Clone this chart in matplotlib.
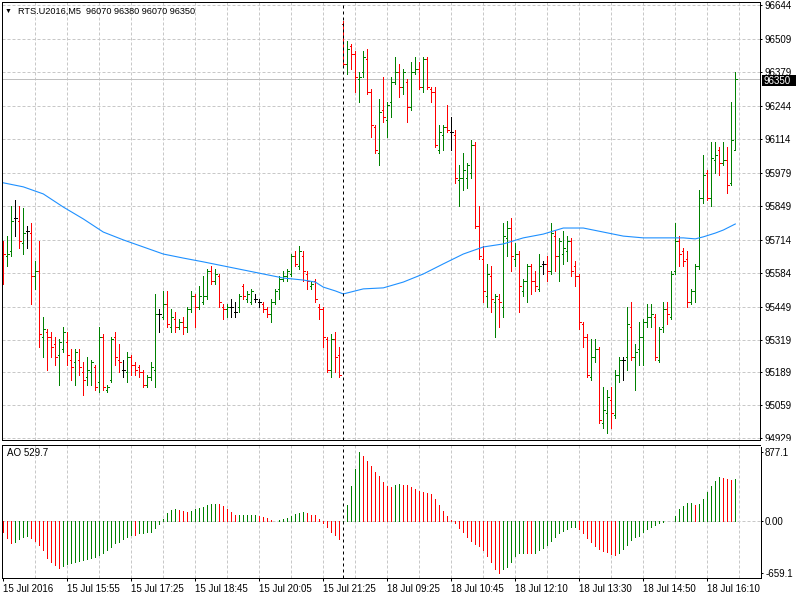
import matplotlib
matplotlib.use("Agg")
import matplotlib.pyplot as plt
import numpy as np
from matplotlib.patches import Rectangle

plt.rcParams["font.family"] = ["Liberation Sans", "DejaVu Sans"]
plt.rcParams["font.size"] = 7

W, H = 800, 600
PX = 0.72  # one pixel in points at 100 dpi
BAR_LW = 0.55  # thin enough to land on a single pixel column

up_col = "#008000"
down_col = "#FF0000"
ma_col = "#1E90FF"
grid_col = "#C8C8C8"

# RTS.U2016, M5 bars (15 Jul 2016 .. 18 Jul 2016)
opens = [
    95690, 95650, 95670, 95800, 95790, 95700, 95750, 95740, 95570, 95590,
    95330, 95350, 95330, 95300, 95260, 95280, 95310, 95240, 95230, 95240,
    95190, 95170, 95190, 95210, 95150, 95330, 95120, 95160, 95330, 95240,
    95200, 95190, 95250, 95220, 95210, 95190, 95140, 95170, 95200, 95420,
    95410, 95460, 95370, 95400, 95370, 95390, 95370, 95440, 95490, 95450,
    95470, 95490, 95590, 95550, 95570, 95450, 95440, 95450, 95430, 95450,
    95530, 95480, 95470, 95480, 95470, 95460, 95440, 95420, 95470, 95520,
    95560, 95570, 95580, 95650, 95610, 95650, 95580, 95530, 95550, 95450,
    95440, 95320, 95200, 95320, 95260, 96570, 96410, 96480, 96450, 96350,
    96380, 96430, 96300, 96160, 96060, 96230, 96190, 96260, 96340, 96380,
    96320, 96340, 96240, 96380, 96390, 96320, 96430, 96310, 96300, 96070,
    96130, 96160, 96140, 96130, 95950, 95960, 95960, 95980, 96090, 95770,
    95640, 95490, 95570, 95470, 95480, 95450, 95720, 95760, 95640, 95660,
    95510, 95550, 95610, 95550, 95520, 95620, 95620, 95590, 95730, 95650,
    95660, 95670, 95710, 95610, 95570, 95380, 95330, 95170, 95250, 95280,
    94990, 95030, 95080, 95020, 95180, 95240, 95250, 95370, 95250, 95280,
    95330, 95390, 95410, 95410, 95240, 95370, 95440, 95410, 95590, 95710,
    95670, 95640, 95470, 95510, 95610, 95880, 95980, 95880, 96030, 96070,
    96020, 96030, 95940, 96070,
]
highs = [
    95710, 95730, 95850, 95870, 95850, 95840, 95770, 95780, 95630, 95710,
    95410, 95360, 95350, 95330, 95320, 95370, 95350, 95280, 95280, 95280,
    95230, 95250, 95240, 95220, 95370, 95340, 95140, 95330, 95350, 95300,
    95240, 95270, 95260, 95230, 95220, 95200, 95180, 95230, 95500, 95440,
    95510, 95510, 95440, 95430, 95400, 95410, 95450, 95510, 95500, 95530,
    95570, 95600, 95610, 95600, 95580, 95460, 95460, 95480, 95470, 95500,
    95540, 95510, 95520, 95500, 95480, 95470, 95450, 95480, 95520, 95570,
    95590, 95600, 95660, 95670, 95690, 95670, 95590, 95550, 95560, 95460,
    95450, 95330, 95340, 95350, 95290, 96580, 96500, 96490, 96460, 96380,
    96460, 96470, 96310, 96170, 96270, 96360, 96260, 96360, 96440, 96410,
    96390, 96350, 96420, 96440, 96420, 96440, 96440, 96320, 96320, 96170,
    96170, 96250, 96200, 96150, 96010, 96060, 96020, 96110, 96100, 95850,
    95690, 95620, 95610, 95500, 95500, 95780, 95790, 95800, 95700, 95670,
    95560, 95620, 95620, 95590, 95660, 95630, 95650, 95780, 95750, 95720,
    95750, 95730, 95720, 95630, 95580, 95390, 95340, 95320, 95320, 95290,
    95130, 95120, 95130, 95200, 95250, 95250, 95450, 95470, 95300, 95390,
    95400, 95460, 95460, 95420, 95370, 95470, 95470, 95590, 95780, 95730,
    95680, 95670, 95520, 95620, 95910, 96050, 95990, 96100, 96100, 96080,
    96100, 96080, 96260, 96380,
]
lows = [
    95540, 95610, 95650, 95730, 95680, 95660, 95680, 95460, 95520, 95290,
    95250, 95200, 95250, 95220, 95140, 95270, 95220, 95160, 95140, 95180,
    95100, 95140, 95140, 95120, 95110, 95120, 95110, 95150, 95220, 95190,
    95170, 95150, 95180, 95180, 95170, 95130, 95130, 95160, 95130, 95350,
    95400, 95370, 95350, 95350, 95360, 95340, 95350, 95430, 95370, 95440,
    95460, 95480, 95540, 95540, 95450, 95400, 95410, 95410, 95410, 95430,
    95480, 95470, 95460, 95470, 95450, 95430, 95410, 95390, 95460, 95480,
    95550, 95550, 95570, 95610, 95600, 95550, 95520, 95520, 95470, 95400,
    95290, 95190, 95170, 95190, 95170, 96400, 96370, 96390, 96300, 96260,
    96360, 96290, 96120, 96060, 96010, 96180, 96120, 96200, 96330, 96280,
    96290, 96180, 96230, 96370, 96310, 96300, 96310, 96260, 96080, 96060,
    96070, 96140, 96070, 95940, 95850, 95910, 95920, 95960, 95760, 95640,
    95470, 95450, 95430, 95330, 95370, 95410, 95650, 95590, 95610, 95430,
    95490, 95470, 95500, 95510, 95510, 95580, 95550, 95580, 95590, 95550,
    95620, 95630, 95570, 95530, 95360, 95290, 95170, 95160, 95230, 94990,
    94970, 94950, 94970, 95010, 95150, 95160, 95200, 95240, 95120, 95220,
    95220, 95370, 95370, 95240, 95230, 95350, 95380, 95400, 95580, 95610,
    95610, 95450, 95460, 95470, 95600, 95860, 95870, 95850, 95980, 95970,
    96010, 95900, 95930, 96070,
]
closes = [
    95660, 95660, 95790, 95800, 95710, 95740, 95750, 95570, 95590, 95340,
    95360, 95330, 95290, 95250, 95310, 95350, 95260, 95210, 95270, 95210,
    95160, 95200, 95230, 95130, 95330, 95130, 95130, 95320, 95250, 95230,
    95200, 95250, 95220, 95200, 95190, 95140, 95170, 95210, 95420, 95420,
    95460, 95380, 95410, 95370, 95390, 95370, 95440, 95490, 95450, 95490,
    95490, 95590, 95550, 95580, 95470, 95440, 95450, 95450, 95430, 95490,
    95490, 95500, 95510, 95480, 95470, 95440, 95420, 95470, 95510, 95560,
    95570, 95590, 95650, 95620, 95670, 95590, 95550, 95540, 95480, 95440,
    95330, 95200, 95320, 95250, 95180, 96410, 96470, 96450, 96360, 96360,
    96440, 96300, 96170, 96070, 96220, 96200, 96250, 96340, 96380, 96320,
    96380, 96240, 96380, 96390, 96320, 96430, 96320, 96300, 96090, 96140,
    96160, 96150, 96140, 95960, 95960, 95990, 96010, 96090, 95770, 95650,
    95510, 95580, 95480, 95490, 95470, 95730, 95760, 95650, 95660, 95530,
    95550, 95610, 95550, 95530, 95610, 95620, 95590, 95740, 95650, 95710,
    95680, 95710, 95590, 95570, 95390, 95330, 95180, 95250, 95280, 95000,
    95040, 95090, 95030, 95180, 95240, 95240, 95380, 95250, 95270, 95330,
    95390, 95410, 95420, 95250, 95360, 95440, 95420, 95580, 95710, 95660,
    95630, 95470, 95510, 95610, 95880, 95970, 95880, 96040, 96050, 96020,
    96030, 95930, 96110, 96350,
]

# moving average (blue line), read at selected bars
ma_bars = [0, 5, 10, 15, 20, 25, 30, 35, 40, 45, 50, 55, 60, 65, 70, 75, 78,
           80, 83, 85, 87, 90, 95, 100, 105, 110, 115, 120, 125, 130, 135, 140,
           145, 150, 155, 160, 165, 170, 173, 175, 178, 180, 183]
ma_values = [95940, 95924, 95896, 95844, 95797, 95745, 95714, 95686, 95658,
             95642, 95627, 95611, 95595, 95579, 95563, 95555, 95547, 95527,
             95512, 95500, 95508, 95520, 95524, 95547, 95579, 95619, 95658,
             95686, 95698, 95722, 95737, 95761, 95761, 95745, 95729, 95722,
             95722, 95722, 95718, 95726, 95741, 95753, 95777]

# Awesome Oscillator
ao_values = [
    -135, -220, -275, -262, -228, -199, -195, -220, -254, -305,
    -368, -465, -516, -558, -592, -571, -546, -529, -516, -503,
    -495, -482, -474, -453, -431, -402, -368, -334, -283, -262,
    -228, -199, -175, -180, -156, -148, -144, -135, -93, -38,
    25, 97, 140, 148, 146, 131, 118, 131, 148, 169,
    182, 203, 216, 220, 218, 195, 148, 118, 72, 74,
    76, 78, 80, 81, 68, 47, 34, 13, -2, 13,
    25, 42, 63, 89, 106, 118, 106, 76, 74, 21,
    -21, -80, -135, -178, -228, -10, 203, 444, 660, 877.1,
    825, 766, 702, 618, 575, 499, 444, 436, 457, 465,
    457, 455, 427, 402, 385, 372, 351, 343, 279, 203,
    131, 63, 13, -21, -85, -135, -199, -250, -296, -317,
    -368, -440, -516, -613, -659.1, -613, -580, -516, -444, -410,
    -402, -405, -410, -402, -368, -338, -305, -250, -207, -156,
    -123, -102, -72, -70, -106, -156, -212, -271, -317, -360,
    -381, -398, -419, -431, -410, -360, -305, -241, -199, -190,
    -135, -106, -80, -51, -30, -13, -6, 4, 63, 152,
    190, 228, 230, 203, 216, 279, 364, 448, 505, 555,
    552, 535, 527, 529.7,
]

price_ticks = [96644, 96509, 96379, 96244, 96114, 95979, 95849, 95714,
               95584, 95449, 95319, 95189, 95059, 94929]
ao_ticks = [-659.1, 0, 877.1]
ao_tick_labels = ["-659.1", "0.00", "877.1"]
label_bars = [0, 16, 32, 48, 64, 80, 96, 112, 128, 144, 160, 176]
time_labels = ["15 Jul 2016", "15 Jul 15:55", "15 Jul 17:25", "15 Jul 18:45",
               "15 Jul 20:05", "15 Jul 21:25", "18 Jul 09:25", "18 Jul 10:45",
               "18 Jul 12:10", "18 Jul 13:30", "18 Jul 14:50", "18 Jul 16:10"]
marker_bar = 85

fig = plt.figure(figsize=(8, 6), dpi=100)
ax = fig.add_axes([2 / W, 1 - 440 / H, 758 / W, 438 / H])
ao = fig.add_axes([2 / W, 1 - 578 / H, 759 / W, 133.5 / H])

x = np.arange(len(opens))
bar_cols = [up_col if c > o else down_col if c < o else "black"
            for o, c in zip(opens, closes)]

dash = (0, (3, 2))
for a in (ax, ao):
    for g in range(8, 185, 8):
        a.axvline(g, color=grid_col, lw=PX, ls=dash, zorder=0)
    a.axvline(marker_bar, color="black", lw=PX, ls=(0, (3, 3)), zorder=3)
    for s in a.spines.values():
        s.set_linewidth(PX)

# price panel
for p in price_ticks:
    ax.axhline(p, color=grid_col, lw=PX, ls=dash, zorder=0)
ax.axhline(closes[-1], color="#C0C0C0", lw=PX, zorder=0.5)

ax.vlines(x, lows, highs, colors=bar_cols, lw=BAR_LW, antialiased=False, zorder=2)
ax.hlines(opens, x - 0.4, x, colors=bar_cols, lw=BAR_LW, antialiased=False, zorder=2)
ax.hlines(closes, x, x + 0.4, colors=bar_cols, lw=BAR_LW, antialiased=False, zorder=2)
ax.plot(ma_bars, ma_values, color=ma_col, lw=0.8, zorder=2.5)

ax.set_xlim(-0.325, 189.175)
ax.set_ylim(94921.6, 96656)
ax.yaxis.tick_right()
ax.set_yticks(price_ticks)
ax.set_yticklabels([str(p) for p in price_ticks])
ax.tick_params(axis="y", direction="out", length=2 * PX, width=PX, pad=1.5, labelsize=7)
ax.tick_params(axis="x", bottom=False, labelbottom=False)

# AO panel
ao_cols = []
for i, v in enumerate(ao_values):
    if i == 0 or v < ao_values[i - 1]:
        ao_cols.append(down_col)
    elif v > ao_values[i - 1]:
        ao_cols.append(up_col)
    else:
        ao_cols.append(ao_cols[-1])
ao.axhline(0, color=grid_col, lw=PX, ls=dash, zorder=0)
ao.vlines(x, 0, ao_values, colors=ao_cols, lw=BAR_LW, antialiased=False, zorder=2)

ao.set_xlim(-0.325, 189.425)
ao.set_ylim(-724, 972)
ao.yaxis.tick_right()
ao.set_yticks(ao_ticks)
ao.set_yticklabels(ao_tick_labels)
ao.tick_params(axis="y", direction="out", length=2 * PX, width=PX, pad=1.5, labelsize=7)
ao.set_xticks(label_bars)
ao.set_xticklabels(time_labels, ha="left")
ao.tick_params(axis="x", direction="out", length=3 * PX, width=PX, pad=2, labelsize=7)

# texts
fig.text(5 / W, 1 - 11 / H, "\u25bc", fontsize=5, va="center")
fig.text(18 / W, 1 - 11 / H, "RTS.U2016,M5  96070 96380 96070 96350",
         fontsize=6.6, va="center")
fig.text(7 / W, 1 - 453.5 / H, "AO 529.7", fontsize=7, va="center")

# current price box
fig.add_artist(Rectangle((762 / W, 1 - 86 / H), 34 / W, 11 / H,
                         transform=fig.transFigure, fc="black", ec="none", zorder=4))
fig.text(764 / W, 1 - 80.5 / H, "96350", color="white", fontsize=7,
         va="center", zorder=5)
# lower price label is cut by the indicator window
fig.add_artist(Rectangle((761 / W, 1 - 447 / H), 39 / W, 6 / H,
                         transform=fig.transFigure, fc="white", ec="none", zorder=4))

fig.savefig("out.png", dpi=100, facecolor="white")
